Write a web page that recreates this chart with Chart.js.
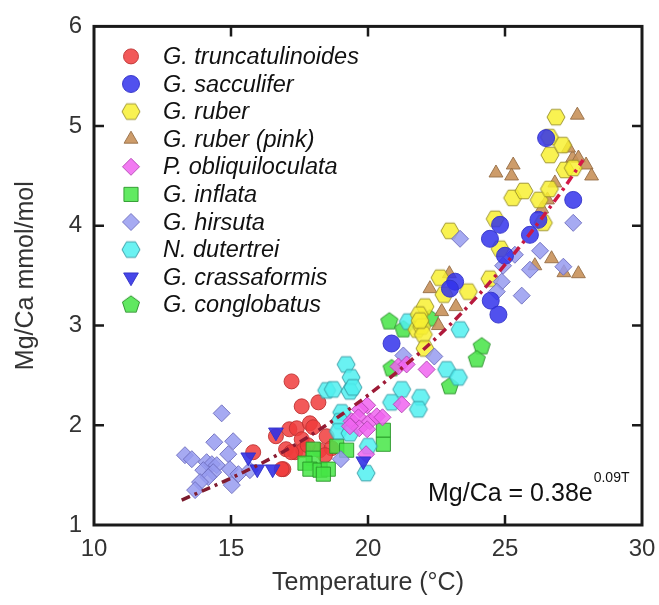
<!DOCTYPE html>
<html>
<head>
<meta charset="utf-8">
<script src="https://cdn.jsdelivr.net/npm/chart.js@4"></script>
<style>
  html, body { margin: 0; padding: 0; background: #fff; }
  #wrap { width: 659px; height: 605px; position: relative; }
</style>
</head>
<body>
<div id="wrap"><canvas id="c"></canvas></div>
<script>
// ---------- Data ----------
const xTicks = [10, 15, 20, 25, 30];
const yTicks = [1, 2, 3, 4, 5, 6];

const seriesNames = [
  'G. truncatulinoides', 'G. sacculifer', 'G. ruber', 'G. ruber (pink)',
  'P. obliquiloculata', 'G. inflata', 'G. hirsuta', 'N. dutertrei',
  'G. crassaformis', 'G. conglobatus'
];

const truncatulinoides = [[17.21,2.44],[17.58,2.19],[18.19,2.23],[17.13,1.96],[17.40,1.97],[17.88,2.02],[18.00,1.98],[18.49,1.89],[17.58,1.86],[17.01,1.76],[17.34,1.73],[17.64,1.75],[18.23,1.75],[18.67,1.77],[16.91,1.56],[15.81,1.73],[16.85,1.56],[16.64,1.89],[17.20,1.73],[18.43,1.70],[17.80,1.80]];
const sacculifer = [[26.50,4.88],[27.49,4.26],[24.82,4.01],[26.22,4.06],[24.45,3.87],[25.91,3.91],[25.00,3.70],[24.48,3.25],[24.76,3.11],[23.18,3.44],[22.99,3.37],[20.86,2.82]];
const ruber = [[22.63,3.48],[23.66,3.34],[22.77,3.31],[22.08,3.19],[21.87,3.11],[21.78,2.96],[21.96,2.99],[22.02,2.91],[22.08,2.77],[22.99,3.95],[24.45,3.47],[24.64,4.07],[24.82,3.77],[25.28,4.28],[25.69,4.35],[26.25,4.26],[26.62,4.37],[26.40,4.03],[26.64,4.71],[27.10,4.81],[27.19,4.56],[27.49,4.58],[26.86,5.09],[26.62,4.89],[21.90,3.05]];
const ruberPink = [[27.64,5.11],[25.30,4.61],[24.67,4.53],[25.24,4.50],[27.47,4.68],[27.68,4.68],[27.96,4.61],[28.16,4.50],[27.32,4.78],[26.82,4.43],[26.55,4.26],[26.34,4.17],[26.70,3.67],[26.09,3.60],[27.15,3.53],[27.68,3.52],[22.26,3.37],[22.97,3.52],[22.69,3.14],[23.21,3.19],[22.57,3.00]];
const obliquiloculata = [[19.97,2.20],[19.71,2.16],[19.40,2.04],[19.65,2.08],[20.07,2.04],[19.68,1.97],[19.97,1.96],[20.32,2.09],[20.53,2.08],[19.34,1.99],[19.93,1.71],[22.14,2.56],[21.23,2.21],[21.11,2.59],[21.41,2.61]];
const inflata = [[18.00,1.76],[18.00,1.67],[17.70,1.62],[17.88,1.56],[18.25,1.55],[18.55,1.56],[18.37,1.51],[18.86,1.79],[19.22,1.75],[20.56,1.95],[20.56,1.81]];
const hirsuta = [[14.66,2.12],[14.39,1.83],[15.08,1.84],[13.32,1.70],[13.57,1.66],[14.90,1.71],[14.11,1.63],[14.30,1.61],[14.48,1.60],[13.99,1.55],[14.35,1.53],[14.96,1.56],[15.27,1.51],[15.69,1.55],[14.17,1.48],[13.87,1.43],[13.69,1.35],[15.03,1.40],[19.01,1.66],[21.29,2.70],[22.42,2.69],[23.36,3.87],[25.36,3.71],[26.28,3.75],[24.88,3.44],[24.70,3.34],[25.61,3.30],[25.91,3.56],[27.13,3.59],[27.49,4.03],[24.93,3.60]];
const dutertrei = [[19.20,2.61],[19.38,2.48],[18.49,2.35],[18.73,2.36],[19.34,2.34],[19.45,2.38],[21.23,2.36],[19.04,2.13],[18.98,2.04],[18.92,1.94],[19.34,1.92],[20.86,2.23],[20.01,1.79],[19.93,1.52],[21.47,3.04],[23.36,2.96],[22.87,2.56],[23.30,2.48],[21.92,2.28],[21.84,2.16]];
const crassaformis = [[16.64,1.93],[15.63,1.68],[15.96,1.56],[16.52,1.56],[19.83,1.64]];
const conglobatus = [[20.78,3.04],[21.29,2.96],[22.26,3.07],[20.86,2.57],[24.15,2.79],[23.97,2.66],[22.99,2.39]];

// Trend line (Mg/Ca = 0.38e^0.09T)
const trendT  = [13.2, 15, 17, 19, 21, 23, 25, 27, 27.85];
const trendMg = [1.25, 1.47, 1.75, 2.10, 2.52, 3.01, 3.61, 4.32, 4.66];

// ---------- Marker helpers ----------
function polyCanvas(n, r, fill, stroke, rotDeg) {
  const s = Math.ceil(2 * r + 4);
  const c = document.createElement('canvas');
  c.width = s; c.height = s;
  const g = c.getContext('2d');
  g.beginPath();
  for (let i = 0; i < n; i++) {
    const a = (rotDeg + i * 360 / n) * Math.PI / 180;
    const x = s / 2 + r * Math.cos(a), y = s / 2 + r * Math.sin(a);
    if (i) g.lineTo(x, y); else g.moveTo(x, y);
  }
  g.closePath();
  g.fillStyle = fill; g.fill();
  g.lineWidth = 1; g.strokeStyle = stroke; g.stroke();
  return c;
}
const toXY = arr => arr.map(p => ({ x: p[0], y: p[1] }));

const styles = [
  { data: truncatulinoides, style: 'circle', r: 7.5, fill: 'rgba(240,60,60,0.85)', stroke: 'rgba(190,50,50,0.9)' },
  { data: sacculifer, style: 'circle', r: 8.5, fill: 'rgba(50,50,235,0.85)', stroke: 'rgba(50,50,200,0.9)' },
  { data: ruber, style: 'hex', r: 9, fill: 'rgba(248,240,50,0.85)', stroke: 'rgba(150,140,40,0.9)' },
  { data: ruberPink, style: 'triangle', r: 8, fill: 'rgba(200,145,90,0.9)', stroke: 'rgba(150,110,70,0.9)' },
  { data: obliquiloculata, style: 'rectRot', r: 8.5, fill: 'rgba(240,100,240,0.85)', stroke: 'rgba(180,70,180,0.9)' },
  { data: inflata, style: 'rect', r: 10, fill: 'rgba(70,230,70,0.85)', stroke: 'rgba(40,150,40,0.9)' },
  { data: hirsuta, style: 'rectRot', r: 8.5, fill: 'rgba(150,155,240,0.85)', stroke: 'rgba(110,110,190,0.9)' },
  { data: dutertrei, style: 'hex', r: 9, fill: 'rgba(80,240,240,0.85)', stroke: 'rgba(50,150,160,0.9)' },
  { data: crassaformis, style: 'triangle', r: 8.5, rot: 180, fill: 'rgba(50,50,230,0.9)', stroke: 'rgba(50,50,200,0.9)' },
  { data: conglobatus, style: 'pent', r: 9, fill: 'rgba(80,230,80,0.9)', stroke: 'rgba(40,140,40,0.9)' }
];
styles.forEach(s => {
  if (s.style === 'hex') s.ps = polyCanvas(6, s.r, s.fill, s.stroke, 0);
  else if (s.style === 'pent') s.ps = polyCanvas(5, s.r, s.fill, s.stroke, -90);
  else s.ps = s.style;
});

const drawOrder = [9, 3, 5, 7, 2, 8, 4, 6, 1, 10]; // higher = drawn beneath
const datasets = styles.map((s, i) => ({
  type: 'scatter',
  label: seriesNames[i],
  data: toXY(s.data),
  pointStyle: s.ps,
  pointRadius: s.r,
  pointRotation: s.rot || 0,
  backgroundColor: s.fill,
  borderColor: s.stroke,
  borderWidth: 1,
  order: drawOrder[i]
}));
datasets.push({
  type: 'line',
  label: 'fit',
  data: trendT.map((t, i) => ({ x: t, y: trendMg[i] })),
  borderColor: (ctx) => {
    const a = ctx.chart.chartArea;
    if (!a) return '#a01838';
    const g = ctx.chart.ctx.createLinearGradient(a.left, 0, a.right, 0);
    g.addColorStop(0, '#6a1c2a');
    g.addColorStop(0.5, '#9a1a35');
    g.addColorStop(1, '#e8184c');
    return g;
  },
  borderWidth: 3.5,
  borderDash: [9, 5, 3, 5],
  pointRadius: 0,
  fill: false,
  cubicInterpolationMode: 'monotone',
  order: 0
});

// ---------- Plugins ----------
const framePlugin = {
  id: 'frame',
  afterDraw(chart) {
    const { ctx, chartArea: a, scales: { x, y } } = chart;
    ctx.save();
    ctx.strokeStyle = '#1a1a1a';
    ctx.lineWidth = 3;
    ctx.strokeRect(a.left, a.top, a.right - a.left, a.bottom - a.top);
    ctx.lineWidth = 2.5;
    const L = 10;
    ctx.beginPath();
    xTicks.slice(1, -1).forEach(v => {
      const px = x.getPixelForValue(v);
      ctx.moveTo(px, a.bottom); ctx.lineTo(px, a.bottom - L);
      ctx.moveTo(px, a.top); ctx.lineTo(px, a.top + L);
    });
    yTicks.slice(1, -1).forEach(v => {
      const py = y.getPixelForValue(v);
      ctx.moveTo(a.left, py); ctx.lineTo(a.left + L, py);
      ctx.moveTo(a.right, py); ctx.lineTo(a.right - L, py);
    });
    ctx.stroke();

    // Legend
    const lx = a.left + 37, tx = a.left + 69;
    let ly = a.top + 30;
    const step = 27.6;
    ctx.textBaseline = 'middle';
    ctx.textAlign = 'left';
    ctx.font = 'italic 23.5px "Liberation Sans", Arial, sans-serif';
    styles.forEach((s, i) => {
      ctx.fillStyle = s.fill;
      ctx.strokeStyle = s.stroke;
      ctx.lineWidth = 1;
      Chart.helpers.drawPoint(ctx, { pointStyle: s.ps, radius: s.r, rotation: s.rot || 0, borderWidth: 1 }, lx, ly);
      ctx.fillStyle = '#111';
      ctx.fillText(seriesNames[i], tx, ly + 1);
      ly += step;
    });

    // Equation
    ctx.textBaseline = 'alphabetic';
    ctx.fillStyle = '#111';
    ctx.font = '25px "Liberation Sans", Arial, sans-serif';
    const main = 'Mg/Ca = 0.38e';
    const ex = 428, ey = 501;
    ctx.fillText(main, ex, ey);
    const w = ctx.measureText(main).width;
    ctx.font = '14px "Liberation Sans", Arial, sans-serif';
    ctx.fillText('0.09T', ex + w + 1, ey - 19);
    ctx.restore();
  }
};

new Chart(document.getElementById('c'), {
  type: 'scatter',
  data: { datasets },
  options: {
    responsive: true,
    maintainAspectRatio: false,
    animation: false,
    devicePixelRatio: 1,
    layout: { padding: { top: 22, right: 17, left: 0, bottom: 0 } },
    plugins: { legend: { display: false }, tooltip: { enabled: false } },
    scales: {
      x: {
        type: 'linear', min: 10, max: 30,
        afterFit: s => { s.height = 80; },
        afterBuildTicks: s => { s.ticks = xTicks.map(v => ({ value: v })); },
        grid: { display: false, drawTicks: true, tickLength: 8 },
        border: { display: false },
        ticks: { color: '#333', padding: 2, font: { size: 24, family: '"Liberation Sans", Arial, sans-serif' } },
        title: { display: true, text: 'Temperature (°C)', color: '#333', padding: { bottom: 7, top: 0 },
                 font: { size: 25, family: '"Liberation Sans", Arial, sans-serif' } }
      },
      y: {
        type: 'linear', min: 1, max: 6,
        afterFit: s => { s.width = 94; },
        afterBuildTicks: s => { s.ticks = yTicks.map(v => ({ value: v })); },
        grid: { display: false, drawTicks: false },
        border: { display: false },
        ticks: { color: '#333', padding: 12, font: { size: 24, family: '"Liberation Sans", Arial, sans-serif' } },
        title: { display: true, text: 'Mg/Ca mmol/mol', color: '#333', padding: { top: 11, bottom: 0 },
                 font: { size: 25, family: '"Liberation Sans", Arial, sans-serif' } }
      }
    }
  },
  plugins: [framePlugin]
});
</script>
</body>
</html>
